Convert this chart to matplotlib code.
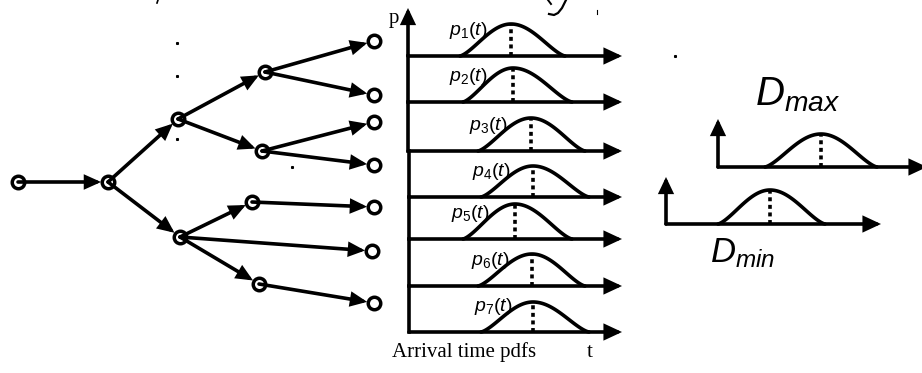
import numpy as np
import matplotlib
matplotlib.use("Agg")
import matplotlib.pyplot as plt
from matplotlib.patches import FancyArrowPatch

plt.rcParams['mathtext.fontset'] = 'custom'
plt.rcParams['mathtext.it'] = 'Liberation Sans:italic'
plt.rcParams['mathtext.rm'] = 'Liberation Sans'
plt.rcParams['mathtext.default'] = 'it'

# tree nodes (pixel coords of the diagram)
node_x = [18, 108, 178, 180, 265, 262, 252, 259, 374, 374, 374, 374, 374, 372, 374]
node_y = [182, 182, 119, 237, 72, 151, 202, 284, 41, 95, 122, 165, 207, 251, 303]
edges = [(0, 1), (1, 2), (1, 3), (2, 4), (2, 5), (4, 8), (4, 9), (5, 10), (5, 11),
         (3, 6), (3, 13), (3, 7), (6, 12), (7, 14)]

# arrival time pdf rows
row_base = [56, 102, 151, 197, 239, 286, 332]
pdf_start = [460, 463, 478, 481, 463, 478, 481]
pdf_peak = [511, 513, 531, 533, 515, 532, 533]
pdf_end = [565, 572, 585, 589, 572, 585, 589]
pdf_height = [32, 34, 33, 31, 35, 32, 30]
label_x = [449, 449, 469, 472, 451, 471, 474]
labels = [r'$p_%d(t)$' % (i + 1) for i in range(7)]

# Dmax / Dmin panels
d_names = [r'$D_{max}$', r'$D_{min}$']
d_axis_x = [718, 666]
d_base = [167, 224]
d_top = [119, 177]
d_right = [927, 881]
d_start = [765, 718]
d_peak = [821, 770]
d_end = [877, 825]
d_height = [33, 34]
d_text_x = [755, 710]
d_text_y = [105, 262]
d_size = [29, 25]

LW = 2.6

fig = plt.figure(figsize=(9.22, 3.73), dpi=100)
ax = fig.add_axes([0, 0, 1, 1])
ax.set_xlim(0, 922)
ax.set_ylim(373, 0)
ax.axis('off')


def arrow(x0, y0, x1, y1, lw=LW, hl=8, hw=3.5, shrinkB=0):
    ax.add_patch(FancyArrowPatch((x0, y0), (x1, y1),
                                 arrowstyle='-|>,head_length=%g,head_width=%g' % (hl, hw),
                                 mutation_scale=1, lw=lw, color='black',
                                 shrinkA=0, shrinkB=shrinkB, joinstyle='miter'))


def bump(x0, xp, x1, base, h):
    ua = np.linspace(0, 1, 40)
    xa = x0 + ua * (xp - x0)
    xb = x1 - ua[::-1] * (x1 - xp)
    fa = np.sin(np.pi * ua / 2) ** 1.4
    ya = base - h * fa
    yb = base - h * fa[::-1]
    ax.plot(np.r_[xa, xb], np.r_[ya, yb], color='black', lw=LW,
            solid_capstyle='round', solid_joinstyle='round')
    ax.plot([xp, xp], [base, base - h], color='black', lw=2.6,
            linestyle=(0, (1.1, 1.0)))


# tree
for a, b in edges:
    arrow(node_x[a], node_y[a], node_x[b], node_y[b], hl=8, hw=3.6, shrinkB=5)
ax.plot(node_x, node_y, 'o', ms=9, mfc='none', mec='black', mew=2.5)

# pdf rows
arrow(408, row_base[0], 408, 8, hl=8, hw=3.8)
prev = row_base[0]
for i, yb in enumerate(row_base):
    xl = 408 if i < 3 else 409
    if i > 0:
        ax.plot([xl, xl], [prev, yb], color='black', lw=LW)
    arrow(xl, yb, 622, yb, hl=9, hw=4.2)
    bump(pdf_start[i], pdf_peak[i], pdf_end[i], yb, pdf_height[i])
    ax.text(label_x[i], yb - 21, labels[i], fontsize=14, ha='left', va='baseline')
    prev = yb

ax.text(389, 23, 'p', family='Liberation Serif', fontsize=15, va='baseline')
ax.text(392, 357, 'Arrival time pdfs', family='Liberation Serif', fontsize=15,
        va='baseline')
ax.text(587, 357, 't', family='Liberation Serif', fontsize=15, va='baseline')

# Dmax / Dmin
for i in range(2):
    arrow(d_axis_x[i], d_base[i], d_axis_x[i], d_top[i], hl=8, hw=3.8)
    arrow(d_axis_x[i], d_base[i], d_right[i], d_base[i], hl=9, hw=4.2)
    bump(d_start[i], d_peak[i], d_end[i], d_base[i], d_height[i])
    ax.text(d_text_x[i], d_text_y[i], d_names[i], fontsize=d_size[i],
            ha='left', va='baseline')

# stray marks from the cropped source (tails of cut-off lettering)
ax.plot([566, 562, 558, 554, 549], [0, 8, 13, 15, 14], color='black', lw=1.6)
ax.plot([548, 551], [0, 4], color='black', lw=1.4)
ax.plot([158, 157], [0, 3], color='black', lw=1.2)
ax.plot([597, 597], [10, 14], color='black', lw=0.8)
ax.plot([177, 177, 177, 292, 675], [43, 76, 139, 167, 56], 's', color='black', ms=1.2)

fig.savefig('out.png', dpi=100)
